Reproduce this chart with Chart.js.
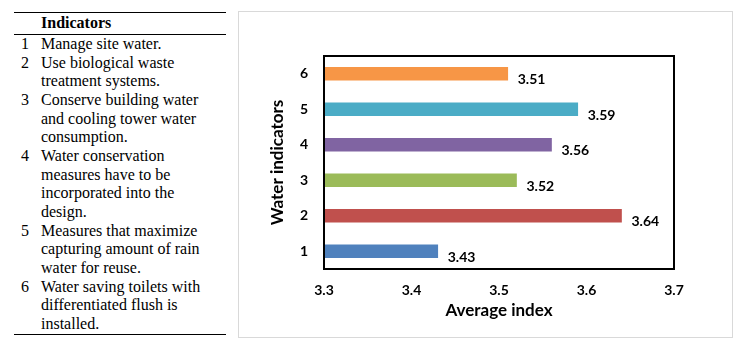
<!DOCTYPE html>
<html>
<head>
<meta charset="utf-8">
<script src="https://cdn.jsdelivr.net/npm/chart.js@4"></script>
<style>
 body{margin:0;width:742px;height:349px;overflow:hidden;background:#fff;}
 #tabla{position:absolute;left:14px;top:12px;width:212px;font-family:"Liberation Serif",serif;font-size:16px;line-height:18.67px;color:#000;}
 #tabla .regla{border-top:1.3px solid #000;}
 #tabla .cab{font-weight:bold;padding-left:27px;height:21px;line-height:20px;}
 #tabla .fila{position:relative;padding-left:27px;white-space:nowrap;}
 #tabla .num{position:absolute;left:6px;width:10px;text-align:center;}
 #marco{position:absolute;left:238px;top:11px;width:493px;height:325px;border:1px solid #d9d9d9;}
</style>
</head>
<body>
<div id="tabla"></div>
<div id="marco"><canvas id="canvasIndicadores" width="493" height="325"></canvas></div>
<script>
//Datos del grafico
const categorias = ["1", "2", "3", "4", "5", "6"];
const valores = [3.43, 3.64, 3.52, 3.56, 3.59, 3.51];
const colores = ["#4F81BD", "#C0504D", "#9BBB59", "#8064A2", "#4BACC6", "#F79646"];
const ticksX = [3.3, 3.4, 3.5, 3.6, 3.7];

//Texto de la tabla de indicadores (cada elemento son las lineas de un item)
const tituloTabla = "Indicators";
const indicadores = [
 ["Manage site water."],
 ["Use biological waste", "treatment systems."],
 ["Conserve building water", "and cooling tower water", "consumption."],
 ["Water conservation", "measures have to be", "incorporated into the", "design."],
 ["Measures that maximize", "capturing amount of rain", "water for reuse."],
 ["Water saving toilets with", "differentiated flush is", "installed."]
];

//Armo la tabla
let html = '<div class="regla"></div><div class="cab">' + tituloTabla + '</div><div class="regla"></div>';
for (let i = 0; i < indicadores.length; i++) {
 html += '<div class="fila"><span class="num">' + (i + 1) + '</span>' + indicadores[i].join('<br>') + '</div>';
}
html += '<div class="regla"></div>';
document.getElementById("tabla").innerHTML = html;

//Plugin para el borde negro del area del grafico
const bordeArea = {
 id: 'bordeArea',
 afterDatasetsDraw(chart) {
  const a = chart.chartArea, ctx = chart.ctx;
  ctx.save();
  ctx.strokeStyle = '#000';
  ctx.lineWidth = 2;
  ctx.strokeRect(a.left, a.top, a.right - a.left, a.bottom - a.top);
  ctx.restore();
 }
};

//Plugin para las etiquetas de valores
const etiquetas = {
 id: 'etiquetas',
 afterDatasetsDraw(chart) {
  const ctx = chart.ctx;
  const meta = chart.getDatasetMeta(0);
  ctx.save();
  ctx.font = 'bold 14px Lato';
  ctx.fillStyle = '#000';
  ctx.textAlign = 'left';
  ctx.textBaseline = 'middle';
  meta.data.forEach(function (barra, i) {
   ctx.fillText(valores[i].toFixed(2), barra.x + 10, barra.y + 6);
  });
  ctx.restore();
 }
};

const fuenteEje = { family: 'Lato', size: 14, weight: 'bold' };
const fuenteTitulo = { family: 'Lato', size: 17, weight: 'bold' };

new Chart(document.getElementById("canvasIndicadores"), {
 type: 'bar',
 data: {
  labels: categorias,
  datasets: [{ data: valores, backgroundColor: colores, barThickness: 13 }]
 },
 options: {
  indexAxis: 'y',
  responsive: false,
  animation: false,
  layout: { padding: { left: 0, right: 58, top: 44, bottom: 0 } },
  plugins: { legend: { display: false }, tooltip: { enabled: false } },
  scales: {
   x: {
    min: 3.3, max: 3.7,
    afterBuildTicks: function (scale) { scale.ticks = ticksX.map(v => ({ value: v })); },
    afterFit: function (scale) { scale.height = 68; },
    grid: { display: false, drawTicks: false, tickLength: 0 },
    border: { display: false },
    ticks: { color: '#000', font: fuenteEje, padding: 13, callback: v => Number(v).toFixed(1) },
    title: { display: true, text: 'Average index', color: '#000', font: fuenteTitulo, padding: { top: 0, bottom: 16 } }
   },
   y: {
    reverse: true,
    afterFit: function (scale) { scale.width = 85; },
    grid: { display: false, drawTicks: false, tickLength: 0 },
    border: { display: false },
    ticks: { color: '#000', font: fuenteEje, padding: 16 },
    title: { display: true, text: 'Water indicators', color: '#000', font: fuenteTitulo, padding: { top: 28, bottom: 0 } }
   }
  }
 },
 plugins: [bordeArea, etiquetas]
});
</script>
</body>
</html>
